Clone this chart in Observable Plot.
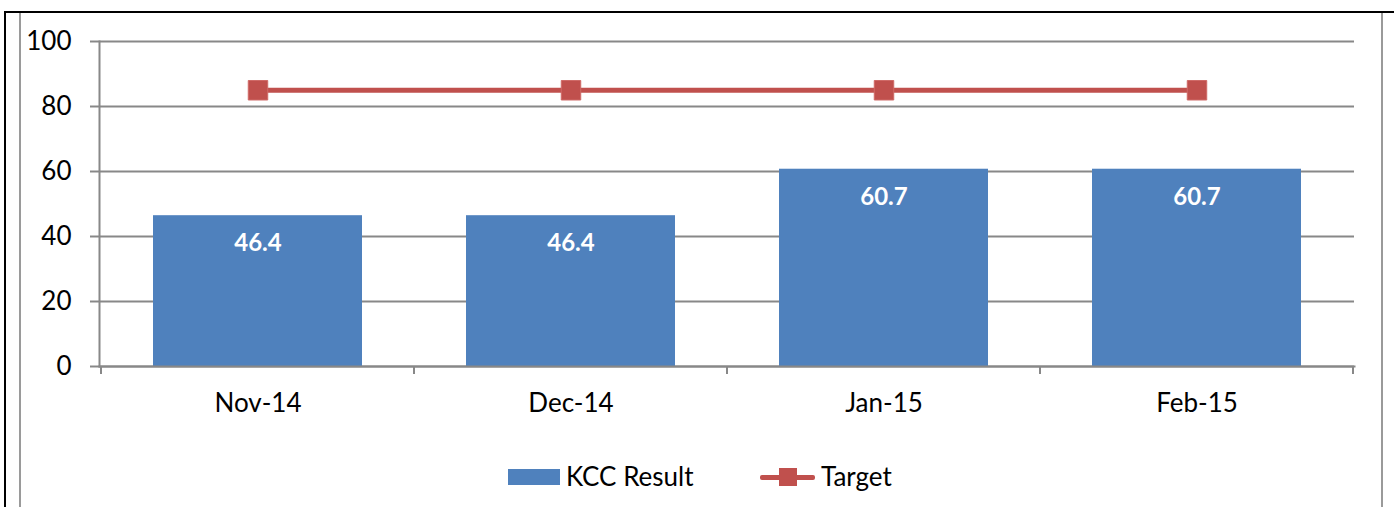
<!DOCTYPE html>
<html>
<head>
<meta charset="utf-8">
<script src="https://cdn.jsdelivr.net/npm/d3@7"></script>
<script src="https://cdn.jsdelivr.net/npm/@observablehq/plot@0.6"></script>
<style>
  html, body { margin: 0; padding: 0; background: #fff; }
  #wrap { position: relative; width: 1394px; height: 507px; overflow: hidden; font-family: Lato, "Open Sans", sans-serif; }
  .line { position: absolute; }
  #chart { position: absolute; left: 0; top: 0; }
  .leg { position: absolute; font-size: 26px; color: #000; line-height: 1; }
</style>
</head>
<body>
<div id="wrap">
  <div id="chart"></div>
  <div class="line" style="left:4px;top:11px;width:2px;height:496px;background:#000"></div>
  <div class="line" style="left:4px;top:11px;width:1390px;height:2px;background:#000"></div>
  <div class="line" style="left:19px;top:13px;width:2px;height:494px;background:#9a9a9a"></div>
  <div class="line" style="left:1381px;top:13px;width:2px;height:494px;background:#9a9a9a"></div>
  <div id="legend"></div>
</div>
<script>
const categories = ["Nov-14", "Dec-14", "Jan-15", "Feb-15"];
const kccResult = [46.4, 46.4, 60.7, 60.7];
const target = [85, 85, 85, 85];
const yTicks = [0, 20, 40, 60, 80, 100];
const seriesNames = ["KCC Result", "Target"];
const barColor = "#4F81BD";
const lineColor = "#C0504D";

const data = categories.map((c, i) => ({cat: c, kcc: kccResult[i], target: target[i]}));

const plot = Plot.plot({
  width: 1394,
  height: 430,
  marginLeft: 99,
  marginRight: 40,
  marginTop: 41,
  marginBottom: 64,
  style: {fontFamily: "Lato, 'Open Sans', sans-serif", fontSize: "26px", color: "#000", background: "transparent"},
  x: {domain: categories, paddingInner: 1/3, paddingOuter: 1/6, label: null},
  y: {domain: [0, 100], label: null},
  marks: [
    Plot.gridY(yTicks, {stroke: "#888", strokeOpacity: 1, strokeWidth: 2}),
    Plot.barY(data, {x: "cat", y: "kcc", fill: barColor}),
    Plot.frame({anchor: "left", stroke: "#888", strokeWidth: 2}),
    Plot.frame({anchor: "bottom", stroke: "#888", strokeWidth: 2}),
    Plot.axisY(yTicks, {tickSize: 9, tickPadding: 19, stroke: "#888", strokeWidth: 2, fill: "#000", fontSize: 26}),
    Plot.axisX({tickSize: 0, tickPadding: 27, fill: "#000", fontSize: 26}),
    Plot.text(data, {x: "cat", y: "kcc", text: d => d.kcc.toFixed(1), dy: 28, fill: "#fff", fontWeight: "bold", fontSize: 24}),
    Plot.line(data, {x: "cat", y: "target", stroke: lineColor, strokeWidth: 5}),
    Plot.dot(data, {x: "cat", y: "target", symbol: "square", r: 11, fill: lineColor, stroke: "#cf6a67", strokeWidth: 1})
  ]
});

// category-boundary tick marks (Excel style), positioned from the library's x scale
const xs = plot.scale("x");
const ys = plot.scale("y");
const gap = xs.step - xs.bandwidth;
const bounds = categories.map(c => xs.apply(c) - gap / 2);
bounds.push(xs.apply(categories[categories.length - 1]) + xs.bandwidth + gap / 2);
const y0 = ys.apply(0);
d3.select(plot).append("g").selectAll("line").data(bounds).join("line")
  .attr("x1", d => d).attr("x2", d => d)
  .attr("y1", y0).attr("y2", y0 + 8)
  .attr("stroke", "#888").attr("stroke-width", 2);

document.getElementById("chart").appendChild(plot);

// legend
const leg = document.getElementById("legend");
leg.innerHTML = `
  <div class="line" style="left:508px;top:469px;width:52px;height:16px;background:${barColor}"></div>
  <div class="leg" style="left:566px;top:463px">${seriesNames[0]}</div>
  <div class="line" style="left:760px;top:475px;width:55px;height:5px;border-radius:2px;background:${lineColor}"></div>
  <div class="line" style="left:779px;top:468px;width:18px;height:18px;background:${lineColor}"></div>
  <div class="leg" style="left:821px;top:463px">${seriesNames[1]}</div>
`;
</script>
</body>
</html>
